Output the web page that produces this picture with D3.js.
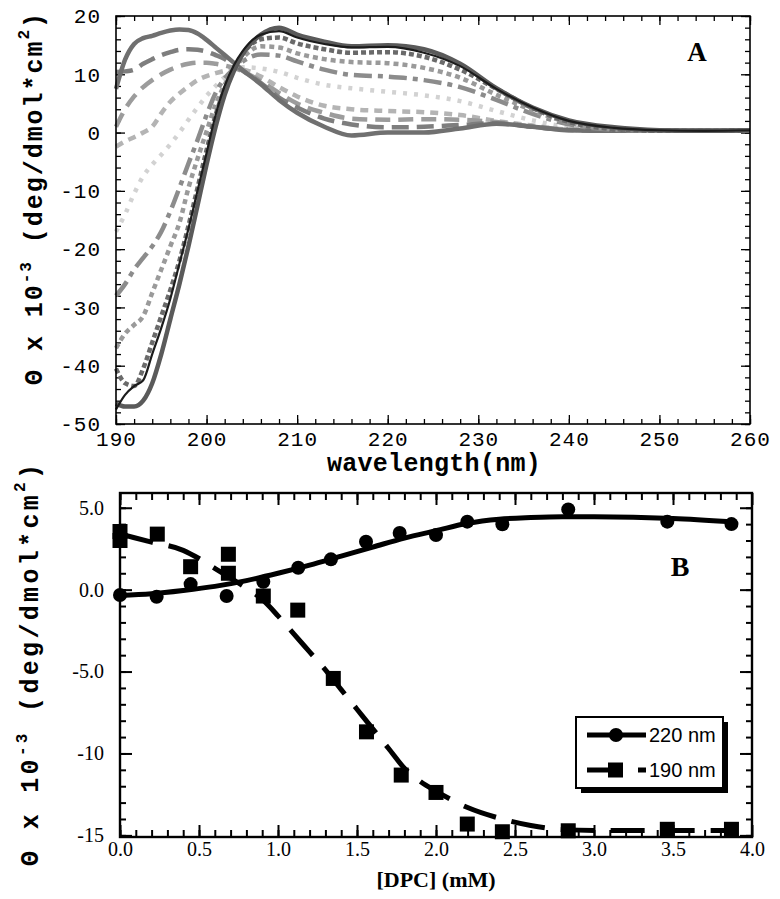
<!DOCTYPE html>
<html>
<head>
<meta charset="utf-8">
<script src="https://cdn.jsdelivr.net/npm/d3@7/dist/d3.min.js"></script>
<style>
  html, body { margin: 0; padding: 0; background: #fff; }
  svg { display: block; }
</style>
</head>
<body>
<script>
// ---------------- DATA: panel A (CD spectra, theta x 1e-3) ----------------
const wavelengths = [190,191,192,193,194,195,196,197,198,199,200,201,202,203,204,206,208,210,213,216,220,224,228,232,236,240,245,250,255,260];
const spectrum1  = [7.5,12.5,15.2,16.2,16.6,17.1,17.5,17.7,17.6,17.0,15.9,14.6,13.3,12.0,10.7,8.3,5.6,3.4,1.0,-0.5,0.0,0.0,0.7,1.5,1.0,0.4,0.3,0.3,0.3,0.4];
const spectrum2  = [10.4,10.5,10.8,11.8,12.6,13.3,13.8,14.2,14.3,14.2,13.9,13.3,12.6,11.6,10.6,8.5,6.0,4.3,2.4,1.4,0.9,1.0,1.3,1.6,1.0,0.5,0.4,0.3,0.3,0.4];
const spectrum3  = [1.0,4.0,6.2,7.8,9.0,10.0,10.8,11.4,11.8,12.0,12.0,11.8,11.5,11.1,10.5,8.8,6.8,5.0,3.4,2.4,2.2,2.3,2.2,1.8,1.0,0.4,0.3,0.3,0.3,0.4];
const spectrum4  = [-2.4,-1.5,-0.8,0.0,1.0,3.3,5.3,6.7,7.9,9.0,9.7,10.2,10.6,10.9,10.8,9.6,7.8,6.2,4.6,4.0,3.7,3.5,3.0,2.0,1.2,0.5,0.3,0.3,0.3,0.4];
const spectrum5  = [-17,-14,-10.5,-7.5,-5.5,-3.8,-2.0,0.0,2.2,4.3,6.3,8.0,9.5,10.6,11.2,11.0,10.4,9.4,8.2,7.6,7.0,6.4,5.4,3.7,2.1,0.9,0.4,0.3,0.3,0.4];
const spectrum6  = [-28,-26,-23.5,-21.5,-19.5,-17,-13.5,-9.5,-5.3,-1.3,3.0,6.8,9.3,10.9,12.2,13.4,13.2,12.2,10.8,9.9,9.6,9.0,7.8,5.6,3.2,1.4,0.5,0.3,0.3,0.4];
const spectrum7  = [-37,-34.5,-33,-31.5,-27.5,-23.5,-19.5,-15.5,-9.5,-4.5,0.2,4.8,8.2,10.8,12.8,14.8,14.6,13.6,12.6,12.1,11.9,11.1,9.4,6.5,3.8,1.7,0.6,0.3,0.3,0.4];
const spectrum8  = [-40.5,-43,-43.5,-40.5,-36,-31.5,-27,-22,-16,-9.5,-3,3,7.5,10.8,13.5,16.0,16.3,15.3,14.3,13.7,13.8,13.0,10.8,7.5,4.2,1.8,0.6,0.3,0.3,0.4];
const spectrum9  = [-47.5,-45,-43.5,-42.5,-38,-33.5,-28.5,-22.5,-16.5,-10,-3.5,3,8,11.5,14,16.8,17.4,16.3,15.2,14.6,14.7,13.7,11.4,7.5,4.3,2.0,0.8,0.4,0.3,0.4];
const spectrum10 = [-46.5,-47,-47,-46,-43,-38,-32,-26,-19.5,-12.5,-5.5,1,6.5,10.5,13.5,16.8,18.0,16.8,15.6,14.8,15.0,14.3,11.8,7.6,4.3,2.1,0.9,0.4,0.3,0.4];

const xTicksA = [190,200,210,220,230,240,250,260];
const yTicksA = [-50,-40,-30,-20,-10,0,10,20];

// ---------------- DATA: panel B (titration) ----------------
const dpc220   = [0, 0.232, 0.447, 0.675, 0.907, 1.128, 1.335, 1.557, 1.77, 2.0, 2.198, 2.42, 2.837, 3.464, 3.87];
const theta220 = [-0.33, -0.43, 0.34, -0.39, 0.48, 1.34, 1.85, 2.92, 3.46, 3.33, 4.15, 3.99, 4.9, 4.15, 4.0];
const dpc190   = [0, 0, 0.236, 0.447, 0.686, 0.686, 0.907, 1.125, 1.35, 1.56, 1.78, 2.0, 2.198, 2.42, 2.837, 3.464, 3.87];
const theta190 = [3.55, 3.0, 3.39, 1.4, 2.16, 1.0, -0.39, -1.25, -5.42, -8.68, -11.32, -12.38, -14.31, -14.78, -14.72, -14.63, -14.63];

const fit220X = [0, 0.2, 0.4, 0.6, 0.8, 1.0, 1.2, 1.4, 1.6, 1.8, 2.0, 2.2, 2.4, 2.6, 2.8, 3.0, 3.5, 3.87];
const fit220Y = [-0.35, -0.25, -0.05, 0.2, 0.55, 1.0, 1.5, 2.05, 2.6, 3.15, 3.6, 4.05, 4.3, 4.4, 4.45, 4.45, 4.35, 4.15];
const fit190X = [0, 0.2, 0.4, 0.5, 0.6, 0.7, 0.8, 0.9, 1.0, 1.1, 1.2, 1.3, 1.4, 1.5, 1.6, 1.7, 1.8, 1.9, 2.0, 2.2, 2.4, 2.6, 2.8, 3.0, 3.5, 3.9];
const fit190Y = [3.4, 2.9, 2.4, 1.9, 1.3, 0.7, 0.1, -0.6, -1.6, -2.7, -3.8, -4.9, -6.1, -7.3, -8.5, -9.7, -10.9, -11.7, -12.3, -13.3, -13.95, -14.4, -14.65, -14.7, -14.7, -14.7];

const xTicksB = [0, 0.5, 1, 1.5, 2, 2.5, 3, 3.5, 4];
const yTicksB = [-15, -10, -5, 0, 5];
const yTickLabelsB = ["-15", "-10", "-5.0", "0.0", "5.0"];
const legendLabels = ["220 nm", "190 nm"];

// ---------------- DRAWING ----------------
const MONO = "'Liberation Mono','Courier New',monospace";
const SERIF = "'Liberation Serif','Times New Roman',serif";
const SANS = "'Liberation Sans',Arial,sans-serif";

const svg = d3.select("body").append("svg").attr("width", 780).attr("height", 899);
svg.append("rect").attr("width", 780).attr("height", 899).attr("fill", "#fff");

// ===== Panel A =====
const A = { l: 116, r: 750, t: 16, b: 424 };
const xA = d3.scaleLinear().domain([190, 260]).range([A.l, A.r]);
const yA = d3.scaleLinear().domain([-50, 20]).range([A.b, A.t]);
const gA = svg.append("g");

function styleAxis(g, fontFamily, fontSize, sw) {
  g.select(".domain").remove();
  g.selectAll(".tick line").attr("stroke", "#000").attr("stroke-width", sw);
  g.selectAll(".tick text").attr("font-family", fontFamily).attr("font-size", fontSize).attr("fill", "#000");
}

// minor ticks
gA.append("g").attr("transform", `translate(0,${A.b})`)
  .call(d3.axisBottom(xA).tickValues(d3.range(190, 261, 2)).tickSize(-5).tickFormat(""))
  .call(g => styleAxis(g, MONO, 20, 1.3));
gA.append("g").attr("transform", `translate(0,${A.t})`)
  .call(d3.axisTop(xA).tickValues(d3.range(190, 261, 2)).tickSize(-5).tickFormat(""))
  .call(g => styleAxis(g, MONO, 20, 1.3));
gA.append("g").attr("transform", `translate(${A.l},0)`)
  .call(d3.axisLeft(yA).tickValues(d3.range(-50, 21, 2)).tickSize(-5).tickFormat(""))
  .call(g => styleAxis(g, MONO, 20, 1.3));
gA.append("g").attr("transform", `translate(${A.r},0)`)
  .call(d3.axisRight(yA).tickValues(d3.range(-50, 21, 2)).tickSize(-5).tickFormat(""))
  .call(g => styleAxis(g, MONO, 20, 1.3));
// major ticks
gA.append("g").attr("transform", `translate(0,${A.b})`)
  .call(d3.axisBottom(xA).tickValues(xTicksA).tickSizeInner(-9).tickSizeOuter(0).tickPadding(7).tickFormat(d => String(d)))
  .call(g => styleAxis(g, MONO, 21, 1.3))
  .call(g => g.selectAll(".tick text").attr("letter-spacing", "1px"));
gA.append("g").attr("transform", `translate(0,${A.t})`)
  .call(d3.axisTop(xA).tickValues(xTicksA).tickSizeInner(-9).tickSizeOuter(0).tickFormat(""))
  .call(g => styleAxis(g, MONO, 21, 1.3));
gA.append("g").attr("transform", `translate(${A.l},0)`)
  .call(d3.axisLeft(yA).tickValues(yTicksA).tickSizeInner(-9).tickSizeOuter(0).tickPadding(15).tickFormat(d => String(d)))
  .call(g => styleAxis(g, MONO, 21, 1.3))
  .call(g => g.selectAll(".tick text").attr("letter-spacing", "1px"));
gA.append("g").attr("transform", `translate(${A.r},0)`)
  .call(d3.axisRight(yA).tickValues(yTicksA).tickSizeInner(-9).tickSizeOuter(0).tickFormat(""))
  .call(g => styleAxis(g, MONO, 21, 1.3));

// spectra
const spectra = [spectrum5, spectrum4, spectrum3, spectrum2, spectrum1, spectrum6, spectrum7, spectrum8, spectrum10, spectrum9];
const specStyles = [
  { c: "#d2d2d2", w: 4.5, d: "4,7" },
  { c: "#b4b4b4", w: 4.5, d: "8,6" },
  { c: "#9c9c9c", w: 4.5, d: "15,8" },
  { c: "#7e7e7e", w: 4.5, d: "17,8" },
  { c: "#707070", w: 4.5, d: null },
  { c: "#8c8c8c", w: 4.5, d: "18,6,5,6" },
  { c: "#9a9a9a", w: 4.5, d: "5,4" },
  { c: "#6a6a6a", w: 4.5, d: "5,3" },
  { c: "#5a5a5a", w: 4.5, d: null },
  { c: "#1c1c1c", w: 2.2, d: null }
];
const lineA = d3.line().x(d => xA(d[0])).y(d => yA(d[1])).curve(d3.curveMonotoneX);
spectra.forEach((s, i) => {
  const st = specStyles[i];
  gA.append("path")
    .datum(wavelengths.map((w, j) => [w, s[j]]))
    .attr("d", lineA)
    .attr("fill", "none")
    .attr("stroke", st.c)
    .attr("stroke-width", st.w)
    .attr("stroke-linejoin", "round")
    .attr("stroke-dasharray", st.d);
});

gA.append("rect").attr("x", A.l).attr("y", A.t).attr("width", A.r - A.l).attr("height", A.b - A.t)
  .attr("fill", "none").attr("stroke", "#000").attr("stroke-width", 1.6);

gA.append("text").attr("x", 697).attr("y", 61).attr("text-anchor", "middle")
  .attr("font-family", SERIF).attr("font-weight", "bold").attr("font-size", 27).text("A");

gA.append("text").attr("x", 434).attr("y", 471).attr("text-anchor", "middle")
  .attr("font-family", MONO).attr("font-weight", "bold").attr("font-size", 25).attr("letter-spacing", "0.3px")
  .text("wavelength(nm)");

function yLabel(x, yBottom, len) {
  const t = svg.append("text").attr("transform", `translate(${x},${yBottom}) rotate(-90)`)
    .attr("font-family", MONO).attr("font-weight", "bold").attr("font-size", 25)
    .attr("textLength", len).attr("lengthAdjust", "spacing");
  t.append("tspan").text("\u0398  x 10");
  t.append("tspan").attr("font-size", 16).attr("dy", -11).text("-3");
  t.append("tspan").attr("dy", 11).text("  (deg/dmol*cm");
  t.append("tspan").attr("font-size", 16).attr("dy", -13).text("2");
  t.append("tspan").attr("dy", 13).text(")");
}
yLabel(42, 385, 372);

// ===== Panel B =====
const B = { l: 120, r: 752, t: 493, b: 837 };
const xB = d3.scaleLinear().domain([0, 4]).range([B.l, B.r]);
const yB = d3.scaleLinear().domain([-15.1, 5.9]).range([B.b, B.t]);
const gB = svg.append("g");

gB.append("g").attr("transform", `translate(0,${B.b})`)
  .call(d3.axisBottom(xB).tickValues(d3.range(0, 40).map(i => i / 10)).tickSize(-7).tickFormat(""))
  .call(g => styleAxis(g, SERIF, 20, 2));
gB.append("g").attr("transform", `translate(0,${B.t})`)
  .call(d3.axisTop(xB).tickValues(d3.range(0, 40).map(i => i / 10)).tickSize(-7).tickFormat(""))
  .call(g => styleAxis(g, SERIF, 20, 2));
gB.append("g").attr("transform", `translate(${B.l},0)`)
  .call(d3.axisLeft(yB).tickValues(d3.range(-15, 6, 1)).tickSize(-6).tickFormat(""))
  .call(g => styleAxis(g, SERIF, 20, 2));
gB.append("g").attr("transform", `translate(${B.r},0)`)
  .call(d3.axisRight(yB).tickValues(d3.range(-15, 6, 1)).tickSize(-6).tickFormat(""))
  .call(g => styleAxis(g, SERIF, 20, 2));
gB.append("g").attr("transform", `translate(0,${B.b})`)
  .call(d3.axisBottom(xB).tickValues(xTicksB).tickSizeInner(-12).tickSizeOuter(0).tickPadding(5).tickFormat(d3.format(".1f")))
  .call(g => styleAxis(g, SERIF, 20, 2));
gB.append("g").attr("transform", `translate(0,${B.t})`)
  .call(d3.axisTop(xB).tickValues(xTicksB).tickSizeInner(-12).tickSizeOuter(0).tickFormat(""))
  .call(g => styleAxis(g, SERIF, 20, 2));
gB.append("g").attr("transform", `translate(${B.l},0)`)
  .call(d3.axisLeft(yB).tickValues(yTicksB).tickSizeInner(-12).tickSizeOuter(0).tickPadding(16).tickFormat((d, i) => yTickLabelsB[i]))
  .call(g => styleAxis(g, SERIF, 20, 2));
gB.append("g").attr("transform", `translate(${B.r},0)`)
  .call(d3.axisRight(yB).tickValues(yTicksB).tickSizeInner(-12).tickSizeOuter(0).tickFormat(""))
  .call(g => styleAxis(g, SERIF, 20, 2));

const lineB = d3.line().x(d => xB(d[0])).y(d => yB(d[1])).curve(d3.curveMonotoneX);
gB.append("path").datum(fit190X.map((x, i) => [x, fit190Y[i]])).attr("d", lineB)
  .attr("fill", "none").attr("stroke", "#000").attr("stroke-width", 5).attr("stroke-dasharray", "34,16");
gB.append("path").datum(fit220X.map((x, i) => [x, fit220Y[i]])).attr("d", lineB)
  .attr("fill", "none").attr("stroke", "#000").attr("stroke-width", 5);

gB.selectAll("rect.sq").data(dpc190.map((x, i) => [x, theta190[i]])).join("rect").attr("class", "sq")
  .attr("x", d => xB(d[0]) - 7.5).attr("y", d => yB(d[1]) - 7.5).attr("width", 15).attr("height", 15).attr("fill", "#000");
gB.selectAll("circle.dot").data(dpc220.map((x, i) => [x, theta220[i]])).join("circle").attr("class", "dot")
  .attr("cx", d => xB(d[0])).attr("cy", d => yB(d[1])).attr("r", 7).attr("fill", "#000");

gB.append("rect").attr("x", B.l).attr("y", B.t).attr("width", B.r - B.l).attr("height", B.b - B.t)
  .attr("fill", "none").attr("stroke", "#000").attr("stroke-width", 2.4);

gB.append("text").attr("x", 680).attr("y", 576).attr("text-anchor", "middle")
  .attr("font-family", SERIF).attr("font-weight", "bold").attr("font-size", 28).text("B");

// legend
const lg = gB.append("g");
lg.append("rect").attr("x", 581).attr("y", 722).attr("width", 147).attr("height", 71).attr("fill", "#000");
lg.append("rect").attr("x", 576).attr("y", 717).attr("width", 147).attr("height", 71)
  .attr("fill", "#fff").attr("stroke", "#000").attr("stroke-width", 2);
lg.append("line").attr("x1", 587).attr("x2", 646).attr("y1", 735).attr("y2", 735).attr("stroke", "#000").attr("stroke-width", 5);
lg.append("circle").attr("cx", 616).attr("cy", 735).attr("r", 7).attr("fill", "#000");
lg.append("line").attr("x1", 587).attr("x2", 646).attr("y1", 770).attr("y2", 770).attr("stroke", "#000").attr("stroke-width", 5)
  .attr("stroke-dasharray", "26,25,8");
lg.append("rect").attr("x", 608).attr("y", 762.5).attr("width", 15).attr("height", 15).attr("fill", "#000");
lg.selectAll("text").data(legendLabels).join("text")
  .attr("x", 649).attr("y", (d, i) => 742 + i * 35)
  .attr("font-family", SANS).attr("font-size", 20).text(d => d);

gB.append("text").attr("x", 436).attr("y", 887).attr("text-anchor", "middle")
  .attr("font-family", SERIF).attr("font-weight", "bold").attr("font-size", 22).text("[DPC] (mM)");

yLabel(38, 866, 402);
</script>
</body>
</html>
